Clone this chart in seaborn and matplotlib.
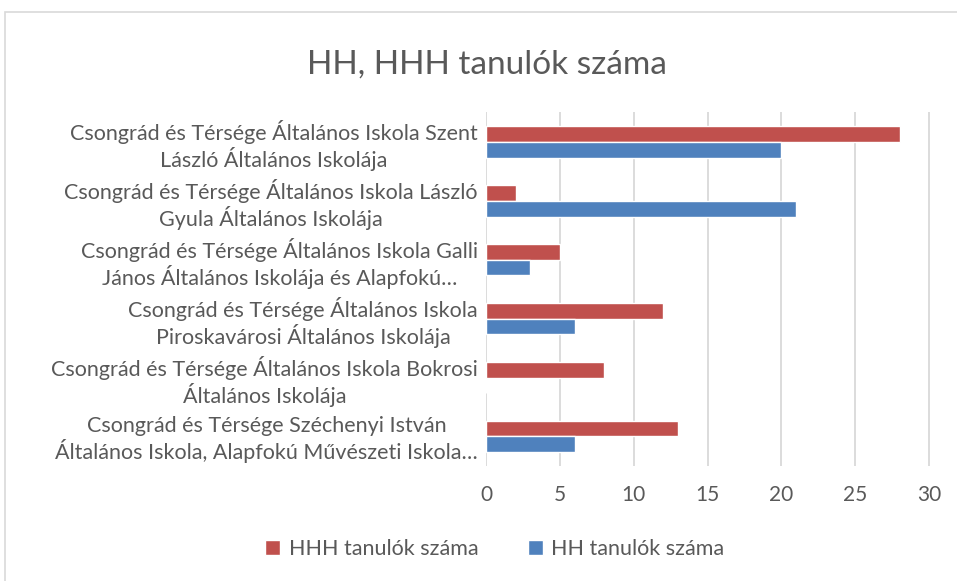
import seaborn as sns
import pandas as pd
import matplotlib.pyplot as plt
from matplotlib.patches import Rectangle

schools = [
    "Csongrád és Térsége Általános Iskola Szent\nLászló Általános Iskolája",
    "Csongrád és Térsége Általános Iskola László\nGyula Általános Iskolája",
    "Csongrád és Térsége Általános Iskola Galli\nJános Általános Iskolája és Alapfokú…",
    "Csongrád és Térsége Általános Iskola\nPiroskavárosi Általános Iskolája",
    "Csongrád és Térsége Általános Iskola Bokrosi\nÁltalános Iskolája",
    "Csongrád és Térsége Széchenyi István\nÁltalános Iskola, Alapfokú Művészeti Iskola…",
]
hhh_values = [28, 2, 5, 12, 8, 13]
hh_values = [20, 21, 3, 6, 0, 6]
series_names = ["HHH tanulók száma", "HH tanulók száma"]
x_ticks = [0, 5, 10, 15, 20, 25, 30]

df = pd.DataFrame({
    "school": schools * 2,
    "value": hhh_values + hh_values,
    "series": [series_names[0]] * len(schools) + [series_names[1]] * len(schools),
})

sns.set_style("white")
plt.rcParams['font.family'] = ['Lato', 'DejaVu Sans']
text_color = "#595959"

fig = plt.figure(figsize=(9.57, 5.81), dpi=100)
ax = fig.add_axes([0.508, 0.198, 0.4675, 0.609])

sns.barplot(data=df, y="school", x="value", hue="series", hue_order=series_names,
            palette=["#C0504D", "#4F81BD"], orient="h", width=0.54, ax=ax,
            saturation=1, legend=True)

ax.set_xlim(0, 30.3)
ax.set_xticks(x_ticks)
ax.grid(axis="x", color="#D9D9D9", linewidth=1.3)
ax.set_axisbelow(True)
for s in ax.spines.values():
    s.set_visible(False)
ax.set_xlabel("")
ax.set_ylabel("")
ax.tick_params(axis="x", length=0, labelsize=15, labelcolor=text_color, pad=14)
ax.tick_params(axis="y", length=0, labelsize=15.5, labelcolor=text_color, pad=6)
for lbl in ax.get_yticklabels():
    lbl.set_multialignment("center")
    lbl.set_linespacing(1.15)

fig.suptitle("HH, HHH tanulók száma", x=0.509, y=0.915, fontsize=24, color=text_color)

handles, labels = ax.get_legend_handles_labels()
ax.legend_.remove()
fig.legend(handles, labels, loc="center", bbox_to_anchor=(0.517, 0.055), ncol=2,
           frameon=False, fontsize=15.5, labelcolor=text_color, handlelength=0.7,
           handleheight=0.7, handletextpad=0.4, columnspacing=2.3)

fig.patches.append(Rectangle((5 / 957, -0.1), 1.1, 1 - 12 / 581 + 0.1,
                             transform=fig.transFigure, fill=False,
                             edgecolor="#D9D9D9", linewidth=1.2))

fig.savefig("out.png", dpi=100)
